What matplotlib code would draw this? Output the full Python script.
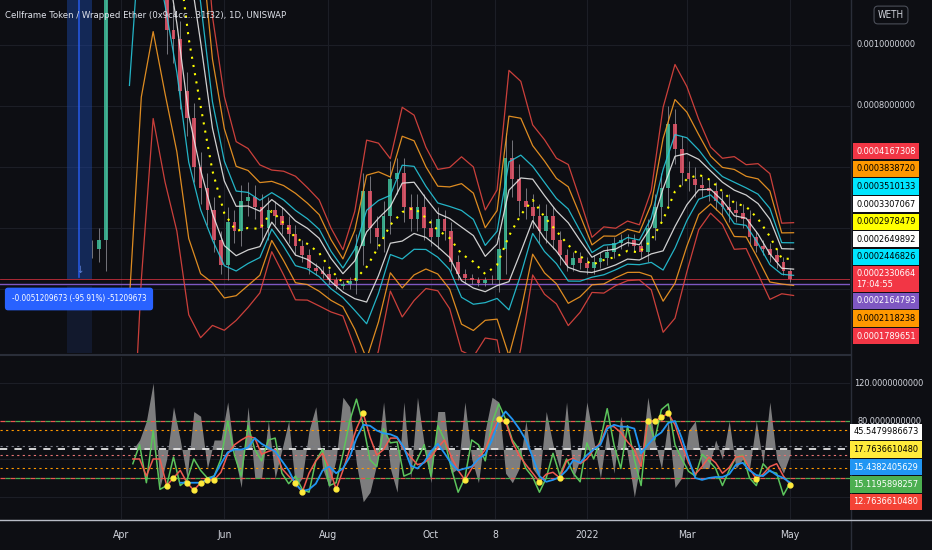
import numpy as np
import pandas as pd
import matplotlib
matplotlib.use("Agg")
import matplotlib.pyplot as plt
import matplotlib.dates as mdates
import matplotlib.transforms as mtransforms

BG = "#0d0e13"
GRID = "#1c1e26"
TXT = "#d1d4dc"
plt.rcParams["font.family"] = ["DejaVu Sans"]
plt.rcParams["font.stretch"] = "condensed"

# ---- price, 1e-4 WETH, one close every 4 days ----
price_dates = pd.date_range("2021-03-15", periods=104, freq="4D")
close = np.array([
    3.3, 3.6, 18, 24, 28, 26, 22, 25, 22, 18,
    13, 10.5, 10.2, 8.5, 7.6, 6.0, 5.3, 4.6, 3.6, 2.8,
    4.2, 3.9, 4.9, 5.0, 4.7, 4.0, 4.6, 4.4, 4.1, 3.8,
    3.4, 3.1, 2.7, 2.6, 2.5, 2.3, 2.1, 2.15, 2.25, 3.4,
    5.2, 4.0, 3.7, 4.4, 5.6, 5.8, 4.7, 4.3, 4.7, 4.0,
    3.7, 4.3, 3.9, 2.9, 2.5, 2.35, 2.3, 2.2, 2.3, 2.3,
    3.3, 6.3, 5.6, 4.9, 4.7, 4.4, 3.9, 4.4, 3.6, 3.1,
    2.8, 3.0, 2.85, 2.7, 2.9, 3.0, 3.2, 3.5, 3.6, 3.6,
    3.4, 3.2, 4.0, 4.7, 5.3, 7.4, 6.6, 5.8, 5.6, 5.4,
    5.3, 5.2, 4.9, 4.7, 4.6, 4.5, 4.3, 3.7, 3.4, 3.3,
    3.1, 2.9, 2.6, 2.33])
# wick length beyond each body
wick = np.array([
    0.3, 0.4, 1, 1, 1, 1, 1, 1, 1, 1,
    1, 0.8, 0.8, 0.6, 0.6, 0.5, 0.5, 0.5, 0.4, 0.3,
    0.5, 0.4, 0.5, 0.5, 0.4, 0.4, 0.4, 0.3, 0.3, 0.3,
    0.3, 0.2, 0.2, 0.15, 0.15, 0.15, 0.1, 0.1, 0.15, 0.4,
    0.6, 0.5, 0.4, 0.5, 0.6, 0.5, 0.5, 0.4, 0.4, 0.4,
    0.3, 0.4, 0.3, 0.3, 0.2, 0.15, 0.15, 0.1, 0.1, 0.15,
    0.4, 0.8, 0.6, 0.5, 0.4, 0.4, 0.4, 0.4, 0.3, 0.3,
    0.2, 0.2, 0.2, 0.2, 0.2, 0.2, 0.2, 0.2, 0.2, 0.2,
    0.2, 0.2, 0.3, 0.4, 0.5, 0.6, 0.5, 0.4, 0.4, 0.4,
    0.3, 0.3, 0.3, 0.3, 0.4, 0.3, 0.3, 0.3, 0.2, 0.2,
    0.2, 0.2, 0.15, 0.1])

# ---- band basis (yellow dotted) and band width, weekly ----
band_dates = pd.date_range("2021-04-06", periods=57, freq="7D")
basis = np.array([
    20, 24, 17.9, 16, 13.3, 10.2, 8.0, 5.87, 4.48, 3.9,
    4.0, 3.97, 4.56, 4.16, 3.67, 3.48, 3.18, 2.62, 2.2, 2.3,
    2.72, 3.38, 4.1, 4.52, 4.66, 4.33, 3.93, 3.67, 3.15, 2.89,
    2.49, 2.79, 3.74, 4.43, 4.92, 4.36, 3.9, 3.44, 3.08, 2.79,
    2.95, 3.05, 3.25, 3.2, 3.6, 4.27, 5.2, 5.6, 5.75, 5.57,
    5.2, 4.82, 4.7, 4.3, 3.72, 3.0, 2.98])
width = np.array([
    7, 6, 2.85, 2.9, 2.6, 2.5, 2.1, 1.40, 1.06, 0.81,
    0.72, 0.58, 0.37, 0.47, 0.56, 0.51, 0.48, 0.38, 0.30, 0.62,
    1.15, 0.94, 0.6, 0.95, 0.84, 0.64, 0.55, 0.64, 0.88, 0.86,
    0.58, 0.68, 1.5, 1.21, 0.68, 0.7, 0.66, 0.73, 0.51, 0.25,
    0.30, 0.26, 0.27, 0.25, 0.45, 1.02, 1.15, 0.84, 0.5, 0.3,
    0.3, 0.42, 0.38, 0.5, 0.57, 0.32, 0.33])
band_mult = [1.0, 1.618, 2.618, 3.618]
band_colors = ["#e6e6e6", "#26c6da", "#f59a23", "#e0453f"]

# ---- oscillator pane, same 4-day grid from 2021-04-07 ----
osc_dates = price_dates[6:]
green = [35, 55, 15, 70, 8, 12, 42, 12, 18, 40, 28, 20, 22, 40, 80, 44, 22, 75, 50, 38,
         60, 62, 25, 14, 22, 8, 5, 38, 50, 12, 15, 45, 80, 103, 76, 39, 32, 72, 57, 58,
         22, 25, 40, 55, 22, 75, 60, 30, 5, 20, 60, 55, 38, 78, 98, 82, 60, 50, 30, 21,
         5, 20, 46, 23, 40, 25, 16, 57, 40, 60, 93, 55, 30, 75, 40, 12, 82, 60, 92, 98,
         55, 40, 27, 22, 45, 38, 30, 12, 28, 42, 44, 20, 12, 35, 27, 25, 2, 15]
red = [40, 40, 22, 40, 40, 12, 20, 28, 15, 7, 15, 18, 18, 26, 45, 55, 60, 64, 62, 45,
       48, 50, 30, 22, 15, 5, 25, 38, 46, 30, 8, 28, 50, 72, 88, 63, 44, 50, 62, 62,
       50, 42, 34, 36, 42, 52, 60, 42, 28, 18, 30, 40, 50, 68, 82, 80, 58, 44, 34, 25,
       16, 24, 26, 20, 38, 41, 35, 40, 50, 57, 75, 74, 68, 58, 50, 32, 80, 80, 84, 88,
       76, 55, 36, 24, 32, 42, 36, 25, 31, 42, 43, 30, 19, 24, 32, 35, 22, 13]
blue = [np.nan] * 7 + [
    15, 15, 15, 15, 18, 22, 35, 47, 50, 50, 52, 62, 56, 52, 48, 38, 28, 14, 6, 8,
    14, 28, 32, 25, 30, 42, 62, 76, 75, 70, 67, 66, 63, 52, 33, 30, 37, 48, 56, 46,
    35, 28, 30, 32, 40, 45, 60, 80, 90, 82, 72, 60, 42, 22, 16, 18, 21, 28, 39, 36,
    44, 50, 55, 72, 76, 74, 74, 72, 46, 55, 63, 68, 78, 80, 62, 40, 20, 18, 20, 21,
    21, 24, 34, 36, 28, 23, 22, 28, 23, 20, 15]
gray = [50, 60, 80, 120, 10, 40, 95, 60, 20, 90, 85, 30, 60, 60, 100, 45, 10, 95, 20, 20,
        80, 20, 50, 80, 10, 20, 70, 95, 30, 10, 40, 105, 95, 35, -5, 5, 35, 100, 30, 5,
        100, 20, 105, 55, 15, 90, 90, 25, 30, 100, 40, 15, 70, 105, 100, 25, 15, 30, 80, 30,
        20, 90, 55, 30, 100, 20, 40, 100, 60, 20, 70, 25, 85, 45, 0, 40, 105, 60, 30, 80,
        10, 20, 70, 80, 30, 30, 60, 40, 80, 30, 40, 30, 80, 35, 100, 40, 25, 45]
green, red, blue, gray = map(np.array, (green, red, blue, gray))

# labels on the right scale
main_stack_above = [("0.0004167308", "#f23645", "white"), ("0.0003838720", "#ff9800", "black"),
                    ("0.0003510133", "#00e5ff", "black"), ("0.0003307067", "#ffffff", "black"),
                    ("0.0002978479", "#ffff00", "black"), ("0.0002649892", "#ffffff", "black"),
                    ("0.0002446826", "#00e5ff", "black")]
main_stack_below = [("0.0002164793", "#7e57c2", "white"), ("0.0002118238", "#ff9800", "black"),
                    ("0.0001789651", "#f23645", "white")]
osc_labels = [("45.5479986673", "#ffffff", "black"), ("17.7636610480", "#ffeb3b", "black"),
              ("15.4382405629", "#2196f3", "white"), ("15.1195898257", "#4caf50", "white"),
              ("12.7636610480", "#f44336", "white")]
month_ticks = pd.to_datetime(["2021-04-01", "2021-06-01", "2021-08-01", "2021-10-01",
                              "2021-11-08", "2022-01-01", "2022-03-01", "2022-05-01"])
month_labels = ["Apr", "Jun", "Aug", "Oct", "8", "2022", "Mar", "May"]

W, H = 932, 550
fig = plt.figure(figsize=(W / 100, H / 100), dpi=100, facecolor=BG)


def add_ax(x0, y0, x1, y1):
    a = fig.add_axes([x0 / W, 1 - y1 / H, (x1 - x0) / W, (y1 - y0) / H])
    a.set_facecolor(BG)
    for s in a.spines.values():
        s.set_visible(False)
    a.set_xticks([])
    a.set_yticks([])
    return a


xmin = mdates.date2num(pd.Timestamp("2021-04-01") - pd.Timedelta(days=71.4))
xmax = mdates.date2num(pd.Timestamp("2021-04-01") + pd.Timedelta(days=430.3))

ax = add_ax(0, 0, 850, 353)
ax.set_xlim(xmin, xmax)
ax.set_ylim(-0.1, 11.475)
ax2 = add_ax(0, 357, 850, 519)
ax2.set_xlim(xmin, xmax)
ax2.set_ylim(-23.2, 147.4)

pd_num = mdates.date2num(price_dates)
bd_num = mdates.date2num(band_dates)
od_num = mdates.date2num(osc_dates)
mt_num = mdates.date2num(month_ticks)

# grid
for d in mt_num:
    ax.axvline(d, color=GRID, lw=0.8, zorder=0)
    ax2.axvline(d, color=GRID, lw=0.8, zorder=0)
for p in [2, 4, 6, 8, 10]:
    ax.axhline(p, color=GRID, lw=0.8, zorder=0)
for v in [0, 40, 80, 120]:
    ax2.axhline(v, color=GRID, lw=0.8, zorder=0)

# measure tool highlight
m0 = mdates.date2num(pd.Timestamp("2021-02-28"))
m1 = mdates.date2num(pd.Timestamp("2021-03-15"))
mc = (m0 + m1) / 2
ax.axvspan(m0, m1, ymin=(2.33 + 0.1) / 11.575, color="#1c48a8", alpha=0.45, lw=0, zorder=1)
ax.axvspan(m0, m1, ymax=(2.1 + 0.1) / 11.575, color="#1c3060", alpha=0.35, lw=0, zorder=1)
ax.axvline(mc, ymin=(2.4 + 0.1) / 11.575, color="#2962ff", lw=1.2, alpha=0.8, zorder=1)
ax.text(mc, 2.45, "\u2193", color="#5b7fd6", fontsize=7, ha="center", va="bottom")

# candles, open = previous close
opens = np.r_[close[0], close[:-1]]
up = close >= opens
hi = np.maximum(opens, close) + wick
lo = np.minimum(opens, close) - wick
ax.vlines(pd_num, lo, hi, color="#a0a0a8", lw=0.7, alpha=0.7, zorder=2.5)
ax.bar(pd_num[up], (close - opens)[up], bottom=opens[up], width=2.2,
       color="#3fbf9b", alpha=0.85, zorder=3)
ax.bar(pd_num[~up], (close - opens)[~up], bottom=opens[~up], width=2.2,
       color="#e8566b", alpha=0.85, zorder=3)

# bands around the basis
for m, c in zip(band_mult, band_colors):
    ax.plot(bd_num, basis + m * width, color=c, lw=0.9, alpha=0.9, zorder=4)
    ax.plot(bd_num, basis - m * width, color=c, lw=0.9, alpha=0.9, zorder=4)
ax.plot(bd_num, basis, color="#ffff00", lw=1.5, ls=(0, (1, 3)), zorder=5)

# current price and purple level
ax.axhline(close[-1], color="#f23645", lw=0.6, alpha=0.8, zorder=2)
ax.axhline(2.164793, color="#7e57c2", lw=1.0, zorder=2)

# oscillator pane
ax2.fill_between(od_num, gray, 50, color="#9a9a9a", alpha=0.8, lw=0, zorder=1)
for lvl, c1, c2, ls, lw in [(80, "#ef5350", "#4caf50", (0, (4, 4)), 0.9),
                            (20, "#ef5350", "#4caf50", (0, (4, 4)), 0.9),
                            (70, "#ff9800", None, (0, (2, 3)), 0.8),
                            (30, "#ff9800", None, (0, (2, 3)), 0.8),
                            (54, "#787b86", None, (0, (2, 3)), 0.8),
                            (44, "#e57373", None, (0, (2, 3)), 0.8),
                            (50, "#e6e6e6", None, (0, (4, 4)), 1.3)]:
    ax2.axhline(lvl, color=c1, ls=ls, lw=lw, zorder=2)
    if c2:
        ax2.axhline(lvl, color=c2, ls=(4, (4, 4)), lw=lw, zorder=2)
ax2.plot(od_num, green, color="#5cc45c", lw=1.1, zorder=3)
ax2.plot(od_num, red, color="#f05a50", lw=1.1, zorder=4)
ax2.plot(od_num, blue, color="#2196f3", lw=1.3, zorder=5)
hot = (red < 22) | (red > 78)
ax2.plot(od_num[hot], red[hot], "o", color="#ffeb3b", ms=3.5, zorder=6)

# frame lines
fig.add_artist(plt.Line2D([851 / W, 851 / W], [0, 1], color="#2a2e39", lw=1))
fig.add_artist(plt.Line2D([0, 851 / W], [1 - 355 / H, 1 - 355 / H], color="#2a2e39", lw=1.5))
fig.add_artist(plt.Line2D([0, 1], [1 - 520 / H, 1 - 520 / H], color="#b8bcc6", lw=1))

# title and tooltip
fig.text(5 / W, 1 - 15 / H, "Cellframe Token / Wrapped Ether (0x9c4cc...31f32), 1D, UNISWAP",
         color="#e0e3eb", fontsize=6.8, va="center")
fig.text(79 / W, 1 - 299 / H, "-0.0051209673 (-95.91%) -51209673", color="white", fontsize=5.8,
         ha="center", va="center",
         bbox=dict(boxstyle="round,pad=0.85,rounding_size=0.4", fc="#2962ff", ec="none"))
fig.text(891 / W, 1 - 15 / H, "WETH", color=TXT, fontsize=7, ha="center", va="center",
         bbox=dict(boxstyle="round,pad=0.4", fc=BG, ec="#4a4d57", lw=0.8))

# date axis
tx = mtransforms.blended_transform_factory(ax2.transData, fig.transFigure)
for d, lab in zip(mt_num, month_labels):
    fig.text(d, 1 - 535 / H, lab, transform=tx, color=TXT, fontsize=7.5, ha="center", va="center")

# right scale numbers
ty = mtransforms.blended_transform_factory(fig.transFigure, ax.transData)
for p, s in [(10, "0.0010000000"), (8, "0.0008000000")]:
    fig.text(886 / W, p, s, transform=ty, color=TXT, fontsize=6.6, ha="center", va="center")
ty2 = mtransforms.blended_transform_factory(fig.transFigure, ax2.transData)
for v, s in [(120, "120.0000000000"), (80, "80.0000000000")]:
    fig.text(889 / W, v, s, transform=ty2, color=TXT, fontsize=6.6, ha="center", va="center")


def tag(ypix, s, fc, tc):
    fig.text(886 / W, 1 - ypix / H, s, color=tc, fontsize=6.6, ha="center", va="center",
             multialignment="left", bbox=dict(boxstyle="square,pad=0.4", fc=fc, ec="none"))


y_price = H - ax.transData.transform((0, close[-1]))[1]
tag(y_price, "0.0002330664\n17:04:55", "#f23645", "white")
for i, (s, fc, tc) in enumerate(reversed(main_stack_above)):
    tag(y_price - 22 - 17.6 * i, s, fc, tc)
for i, (s, fc, tc) in enumerate(main_stack_below):
    tag(y_price + 22 + 17.6 * i, s, fc, tc)
for i, (s, fc, tc) in enumerate(osc_labels):
    tag(432 + 17.5 * i, s, fc, tc)

fig.savefig("out.png", dpi=100, facecolor=BG)
